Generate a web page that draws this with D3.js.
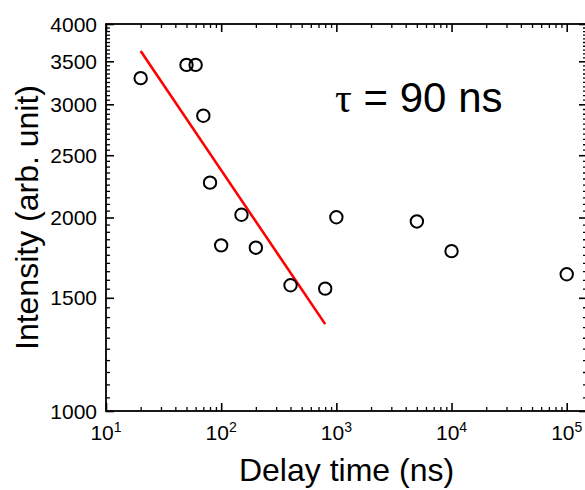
<!DOCTYPE html>
<html>
<head>
<meta charset="utf-8">
<script src="https://cdn.jsdelivr.net/npm/d3@7"></script>
<style>
  html, body { margin: 0; padding: 0; background: #fff; }
  svg { display: block; font-family: "Liberation Sans", Arial, sans-serif; }
</style>
</head>
<body>
<svg id="chart" width="585" height="490"></svg>
<script>
// Measured intensity versus delay time
const delayNs = [20, 50, 60, 70, 80, 100, 150, 200, 400, 800, 1000, 5000, 10000, 100000];
const intensity = [3295, 3455, 3455, 2880, 2266, 1810, 2020, 1795, 1569, 1550, 2002, 1972, 1773, 1632];

// Fitted decay line endpoints
const fitDelay = [20, 800];
const fitIntensity = [3630, 1365];

// Axis ticks
const xMajorTicks = [10, 100, 1000, 10000, 100000];
const xTickExponents = ["1", "2", "3", "4", "5"];
const yMajorTicks = [1000, 1500, 2000, 2500, 3000, 3500, 4000];
const yMinorStep = 50;

const annotationSymbol = "\u03C4";
const annotationText = " = 90 ns";
const xTitle = "Delay time (ns)";
const yTitle = "Intensity (arb. unit)";

const svg = d3.select("#chart");
const plotLeft = 106, plotRight = 587, plotTop = 24, plotBottom = 411;

const x = d3.scaleLog().domain([10, 1.5e5]).range([plotLeft, plotRight]);
const y = d3.scaleLog().domain([1000, 4000]).range([plotBottom, plotTop]);

// minor tick positions
const xMinor = [];
xMajorTicks.forEach(d => { for (let k = 2; k <= 9; k++) { const v = d * k; if (v <= 1.5e5) xMinor.push(v); } });
const yMinor = d3.range(1000, 4000 + 1, yMinorStep).filter(v => !yMajorTicks.includes(v));

function styleAxis(g, w) {
  g.select(".domain").remove();
  g.selectAll("line").attr("stroke", "#000").attr("stroke-width", w);
  g.selectAll("text").remove();
}

// bottom / top axes (ticks pointing inward)
[[d3.axisBottom, plotBottom], [d3.axisTop, plotTop]].forEach(([ax, pos]) => {
  svg.append("g").attr("transform", `translate(0,${pos})`)
    .call(ax(x).tickValues(xMajorTicks).tickSize(-8).tickFormat(""))
    .call(g => styleAxis(g, 1.6));
  svg.append("g").attr("transform", `translate(0,${pos})`)
    .call(ax(x).tickValues(xMinor).tickSize(-4).tickFormat(""))
    .call(g => styleAxis(g, 1.3));
});

// left / right axes (ticks pointing inward)
[[d3.axisLeft, plotLeft], [d3.axisRight, plotRight]].forEach(([ax, pos]) => {
  svg.append("g").attr("transform", `translate(${pos},0)`)
    .call(ax(y).tickValues(yMajorTicks).tickSize(-8).tickFormat(""))
    .call(g => styleAxis(g, 1.6));
  svg.append("g").attr("transform", `translate(${pos},0)`)
    .call(ax(y).tickValues(yMinor).tickSize(-4).tickFormat(""))
    .call(g => styleAxis(g, 1.3));
});

// frame
svg.append("rect")
  .attr("x", plotLeft).attr("y", plotTop)
  .attr("width", plotRight - plotLeft).attr("height", plotBottom - plotTop)
  .attr("fill", "none").attr("stroke", "#000").attr("stroke-width", 1.8);

// y tick labels
svg.append("g").selectAll("text").data(yMajorTicks).join("text")
  .attr("x", plotLeft - 9).attr("y", d => y(d))
  .attr("dy", "0.36em")
  .attr("text-anchor", "end")
  .attr("font-size", 21)
  .attr("fill", "#000")
  .text(d => d);

// x tick labels with superscript exponents
const xl = svg.append("g").selectAll("text").data(xMajorTicks).join("text")
  .attr("x", d => x(d)).attr("y", 440)
  .attr("text-anchor", "middle")
  .attr("font-size", 21)
  .attr("fill", "#000");
xl.append("tspan").text("10");
xl.append("tspan").attr("font-size", 14).attr("dy", -8).text((d, i) => xTickExponents[i]);

// fit line
svg.append("path")
  .datum(fitDelay.map((d, i) => [d, fitIntensity[i]]))
  .attr("d", d3.line().x(d => x(d[0])).y(d => y(d[1])))
  .attr("stroke", "#ff0000").attr("stroke-width", 2.6).attr("fill", "none");

// data markers
svg.append("g").selectAll("circle").data(delayNs.map((d, i) => [d, intensity[i]])).join("circle")
  .attr("cx", d => x(d[0])).attr("cy", d => y(d[1]))
  .attr("r", 6.2)
  .attr("fill", "none").attr("stroke", "#000").attr("stroke-width", 2);

// lifetime annotation
const ann = svg.append("text")
  .attr("x", 335).attr("y", 112)
  .attr("font-size", 42).attr("fill", "#000");
ann.append("tspan").attr("font-family", "'Liberation Serif', 'DejaVu Serif', serif").text(annotationSymbol);
ann.append("tspan").text(annotationText);

// axis titles
svg.append("text")
  .attr("x", (plotLeft + plotRight) / 2).attr("y", 481)
  .attr("text-anchor", "middle")
  .attr("font-size", 32).attr("fill", "#000")
  .text(xTitle);

svg.append("text")
  .attr("transform", `translate(38,${(plotTop + plotBottom) / 2}) rotate(-90)`)
  .attr("text-anchor", "middle")
  .attr("font-size", 32).attr("fill", "#000")
  .text(yTitle);
</script>
</body>
</html>
